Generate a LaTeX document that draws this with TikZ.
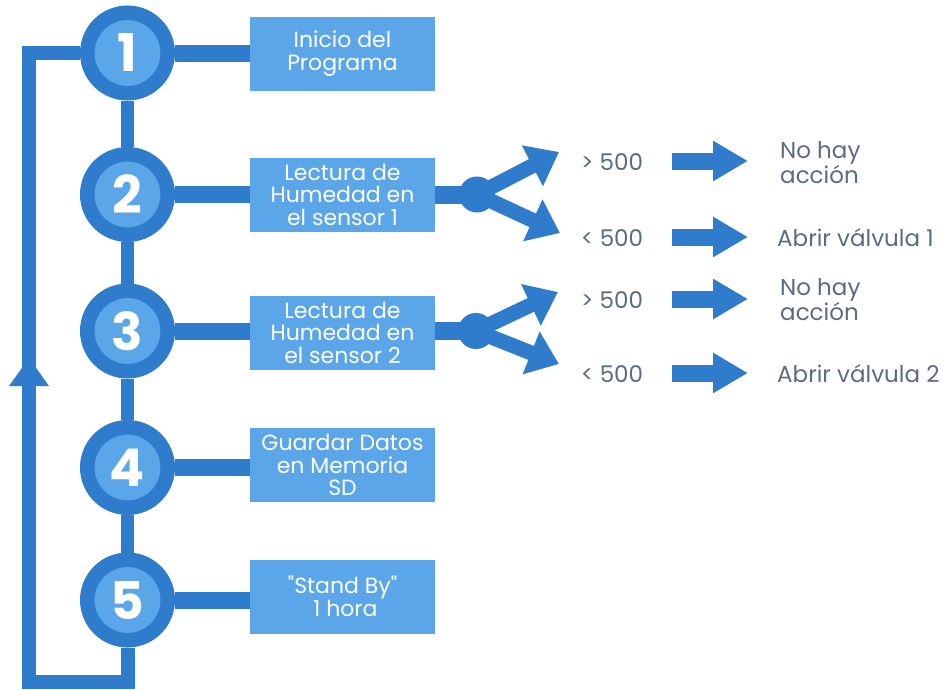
\documentclass[tikz,border=0pt]{standalone}
\usepackage{fontspec}
\setmainfont{Poppins}
\usetikzlibrary{arrows.meta}
\definecolor{dk}{HTML}{2E7CCB}
\definecolor{lt}{HTML}{5BA6E9}
\definecolor{gr}{HTML}{5C6C80}
\tikzset{
  stepcirc/.style={circle, fill=lt, draw=dk, line width=14.5pt, minimum size=80.5pt, inner sep=0pt,
    text=white, font=\bfseries\fontsize{52}{52}\selectfont},
  stepbox/.style={rectangle, fill=lt, minimum width=185pt, minimum height=74pt, inner sep=0pt,
    text=white, align=center, font=\fontsize{22}{22.5}\selectfont},
  vlink/.style={draw=dk, line width=13pt},
  hlink/.style={draw=dk, line width=17pt},
  junction/.style={circle, fill=dk, minimum size=36pt, inner sep=0pt},
  branch/.style={draw=dk, line width=15pt, -{Triangle[length=30pt,width=44pt]}},
  blockarrow/.style={draw=dk, line width=17pt, -{Triangle[length=35pt,width=38pt]}},
  cond/.style={text=gr, font=\fontsize{23}{24}\selectfont, inner sep=0pt},
  result/.style={text=gr, font=\fontsize{23}{23}\selectfont, inner sep=0pt, align=left, anchor=west},
  looppath/.style={draw=dk, line width=14pt, line join=miter}
}
\begin{document}
\begin{tikzpicture}[x=1pt,y=-1pt]
\path[fill=white, use as bounding box] (0,0) rectangle (947,689);

% step circles
\node[stepcirc] (c1) at (127.5,53) {1};
\node[stepcirc] (c2) at (127.5,194.5) {2};
\node[stepcirc] (c3) at (127.5,331) {3};
\node[stepcirc] (c4) at (127.5,467.5) {4};
\node[stepcirc] (c5) at (127.5,600) {5};

% boxes
\node[stepbox] (b1) at (342.5,53.5) {Inicio del\\Programa};
\node[stepbox] (b2) at (342.5,194.5) {Lectura de\\Humedad en\\el sensor 1};
\node[stepbox] (b3) at (342.5,332.5) {Lectura de\\Humedad en\\el sensor 2};
\node[stepbox] (b4) at (342.5,465) {Guardar Datos\\en Memoria\\SD};
\node[stepbox] (b5) at (342.5,596.5) {\textquotedbl Stand By\textquotedbl\\ \ 1 hora};

% vertical links
\draw[vlink] (c1) -- (c2);
\draw[vlink] (c2) -- (c3);
\draw[vlink] (c3) -- (c4);
\draw[vlink] (c4) -- (c5);

% horizontal links
\draw[hlink] (c1) -- (c1 -| b1.west);
\draw[hlink] (c2) -- (c2 -| b2.west);
\draw[hlink] (c3) -- (c3 -| b3.west);
\draw[hlink] (c4) -- (c4 -| b4.west);
\draw[hlink] (c5) -- (c5 -| b5.west);

% loop back
\coordinate (lt1) at (29,53);
\coordinate (lb1) at (29,682);
\coordinate (rb1) at (127.5,682);
\draw[looppath] (c1.west) -- (lt1) -- (lb1) -- (rb1) -- (c5.south);
\fill[dk] (9,386) -- (29,358) -- (49,386) -- cycle;

% junctions
\node[junction] (d2) at (477,194.5) {};
\node[junction] (d3) at (476,331) {};
\draw[dk, line width=18pt] (d2 -| b2.east) -- (d2.center);
\draw[dk, line width=18pt] (d3 -| b3.east) -- (d3.center);

\coordinate (t2a) at (559,152);
\coordinate (t2b) at (560,233);
\coordinate (t3a) at (558,292);
\coordinate (t3b) at (559,364);
\draw[branch] (d2.center) -- (t2a);
\draw[branch] (d2.center) -- (t2b);
\draw[branch] (d3.center) -- (t3a);
\draw[branch] (d3.center) -- (t3b);

% conditions
\node[cond] (g2) at (612,162) {> 500};
\node[cond] (l2) at (612,238) {< 500};
\node[cond] (g3) at (612,300) {> 500};
\node[cond] (l3) at (612,374) {< 500};

% block arrows
\coordinate (a1s) at (672,161); \coordinate (a1e) at (748,161);
\coordinate (a2s) at (672,237); \coordinate (a2e) at (748,237);
\coordinate (a3s) at (672,299); \coordinate (a3e) at (748,299);
\coordinate (a4s) at (672,373); \coordinate (a4e) at (748,373);
\draw[blockarrow] (a1s) -- (a1e);
\draw[blockarrow] (a2s) -- (a2e);
\draw[blockarrow] (a3s) -- (a3e);
\draw[blockarrow] (a4s) -- (a4e);

% results
\node[result] (r1) at (780,163) {No hay\\acción};
\node[result] (r2) at (777,238) {Abrir válvula 1};
\node[result] (r3) at (780,300) {No hay\\acción};
\node[result] (r4) at (777,374) {Abrir válvula 2};
\end{tikzpicture}
\end{document}
